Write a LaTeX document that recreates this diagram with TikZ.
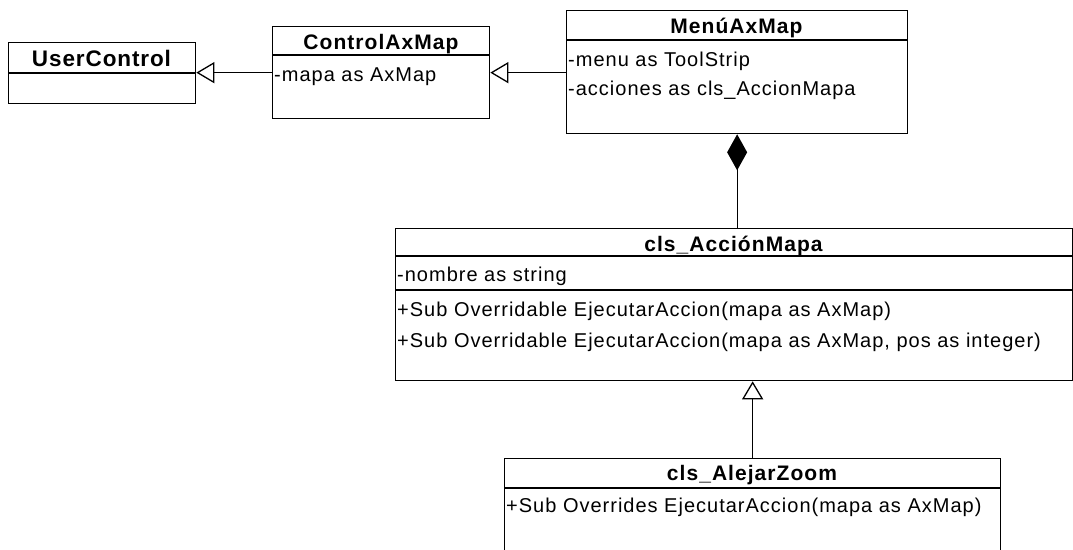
\documentclass[tikz,border=0pt]{standalone}
\usepackage{fontspec}
\setmainfont{Liberation Sans}
\newfontfamily\hdfont[LetterSpace=5]{Liberation Sans}
\newfontfamily\ucfont[LetterSpace=4]{Liberation Sans}
\newfontfamily\bdfont[LetterSpace=5]{Liberation Sans}
\usetikzlibrary{arrows.meta}
\begin{document}
\begin{tikzpicture}[x=1pt,y=-1pt,
  classbox/.style={draw, line width=1.3pt, inner sep=0pt, anchor=north west},
  sep/.style={line width=1.3pt},
  hd/.style={inner sep=0pt, anchor=base, font=\hdfont\bfseries\fontsize{21}{25}\selectfont},
  uchd/.style={inner sep=0pt, anchor=base, font=\ucfont\bfseries\fontsize{22.5}{26}\selectfont},
  body/.style={inner sep=0pt, anchor=base west, font=\bdfont\fontsize{20}{24}\selectfont},
  gen/.style={line width=1.3pt, -{Triangle[open, length=18pt, width=21pt]}},
  comp/.style={line width=1.3pt, -{Diamond[length=36pt, width=20pt]}}]
\useasboundingbox (0,0) rectangle (1073,549);

% UserControl
\node[classbox, minimum width=187pt, minimum height=61pt] (uc) at (8,42) {};
\draw[sep] (8,73) -- (195,73);
\node[uchd] (ucT) at (101.5,66.5) {UserControl};

% ControlAxMap
\node[classbox, minimum width=217pt, minimum height=92pt] (ctrl) at (272,26) {};
\draw[sep] (272,55) -- (489,55);
\node[hd] (ctrlT) at (381,49) {ControlAxMap};
\node[body] (ctrlA) at (274,81) {-mapa as AxMap};

% MenuAxMap
\node[classbox, minimum width=341pt, minimum height=123pt] (menu) at (566,10) {};
\draw[sep] (566,40) -- (907,40);
\node[hd] (menuT) at (736.5,33) {MenúAxMap};
\node[body] (menuA) at (568,66) {-menu as ToolStrip};
\node[body] (menuB) at (568,95) {-acciones as cls\_AccionMapa};

% cls_AccionMapa
\node[classbox, minimum width=677pt, minimum height=152pt] (acc) at (395,228) {};
\draw[sep] (395,256) -- (1072,256);
\draw[sep] (395,290) -- (1072,290);
\node[hd] (accT) at (733.5,251) {cls\_AcciónMapa};
\node[body] (accA) at (397,281) {-nombre as string};
\node[body] (accO1) at (397,316) {+Sub Overridable EjecutarAccion(mapa as AxMap)};
\node[body] (accO2) at (397,347) {+Sub Overridable EjecutarAccion(mapa as AxMap, pos as integer)};

% cls_AlejarZoom
\node[classbox, minimum width=496pt, minimum height=110pt] (alz) at (504,458) {};
\draw[sep] (504,488) -- (1000,488);
\node[hd] (alzT) at (752,480) {cls\_AlejarZoom};
\node[body] (alzO) at (506,512) {+Sub Overrides EjecutarAccion(mapa as AxMap)};

% connectors
\draw[gen] (ctrl.west) -- (ctrl.west -| uc.east);
\draw[gen] (menu.west |- ctrl.east) -- (ctrl.east);
\draw[comp] (menu.south |- acc.north) -- (menu.south);
\draw[gen] (alz.north) -- (alz.north |- acc.south);
\end{tikzpicture}
\end{document}
